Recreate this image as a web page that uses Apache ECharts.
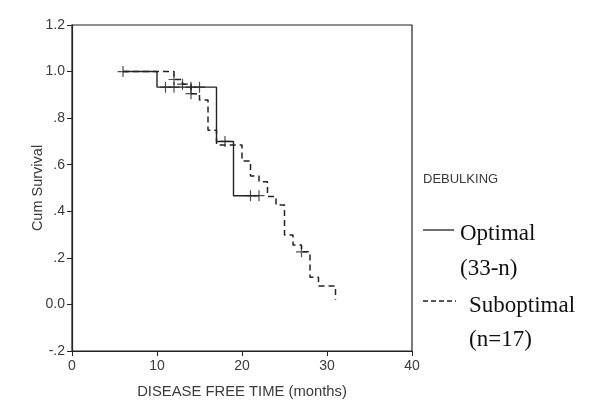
<!DOCTYPE html>
<html>
<head>
<meta charset="utf-8">
<script src="https://cdn.jsdelivr.net/npm/echarts@6/dist/echarts.min.js"></script>
<style>html,body{margin:0;padding:0;background:#fff}#c{width:600px;height:417px}</style>
</head>
<body>
<div id="c"></div>
<script>
// Kaplan-Meier step data (time in months, cumulative survival after that time)
const optimalTimes = [6, 10, 17, 19, 22];
const optimalSurv  = [1.0, 0.933, 0.70, 0.467, 0.467];
const optimalCensorTimes = [6, 11, 12, 14, 15, 18, 21, 22];
const optimalCensorSurv  = [1.0, 0.933, 0.933, 0.933, 0.933, 0.70, 0.467, 0.467];

const subTimes = [6, 12, 13, 14, 15, 16, 17, 20, 21, 22, 23, 24, 25, 26, 27, 28, 29, 31];
const subSurv  = [1.0, 0.966, 0.946, 0.905, 0.878, 0.748, 0.685, 0.616, 0.551, 0.527, 0.463, 0.427, 0.298, 0.255, 0.226, 0.117, 0.079, 0.02];
const subCensorTimes = [12, 13, 14, 27];
const subCensorSurv  = [0.966, 0.946, 0.905, 0.226];

const xTicks = [0, 10, 20, 30, 40];
const yTicks = [-0.2, 0, 0.2, 0.4, 0.6, 0.8, 1.0, 1.2];

const zip = (a, b) => a.map((v, i) => [v, b[i]]);
const plus = 'path://M4.45,0H5.55V4.45H10V5.55H5.55V10H4.45V5.55H0V4.45H4.45Z';
const ink = '#222';
const txt = '#3a3a3a';

function yFmt(v) {
  const r = Math.round(v * 10) / 10;
  if (Math.abs(r) < 1e-9) return '0.0';
  if (Math.abs(r) >= 1) return r.toFixed(1);
  const s = Math.abs(r).toFixed(1).replace(/^0/, '');
  return (r < 0 ? '-' : '') + s;
}

const chart = echarts.init(document.getElementById('c'), null, {renderer: 'canvas'});
chart.setOption({
  animation: false,
  backgroundColor: '#fff',
  grid: {left: 72, right: 188, top: 25, bottom: 66, show: true, borderColor: ink, borderWidth: 1.2, backgroundColor: 'transparent'},
  xAxis: {
    type: 'value', min: xTicks[0], max: xTicks[xTicks.length - 1], interval: 10,
    name: 'DISEASE FREE TIME (months)', nameLocation: 'middle', nameGap: 33,
    nameTextStyle: {fontFamily: 'Liberation Sans', fontSize: 14.8, color: txt},
    axisLine: {show: true, onZero: false, lineStyle: {color: ink, width: 1.2}},
    axisTick: {show: true, inside: false, length: 5, lineStyle: {color: ink}},
    axisLabel: {margin: 8, fontFamily: 'Liberation Sans', fontSize: 14, color: txt},
    splitLine: {show: false}
  },
  yAxis: {
    type: 'value', min: yTicks[0], max: yTicks[yTicks.length - 1], interval: 0.2,
    name: 'Cum Survival', nameLocation: 'middle', nameGap: 27, nameRotate: 90,
    nameMoveOverlap: false,
    nameTextStyle: {fontFamily: 'Liberation Sans', fontSize: 14.5, color: txt},
    axisLine: {show: true, onZero: false, lineStyle: {color: ink, width: 1.2}},
    axisTick: {show: true, inside: false, length: 5, lineStyle: {color: ink}},
    axisLabel: {margin: 7, fontFamily: 'Liberation Sans', fontSize: 14, color: txt, formatter: yFmt},
    splitLine: {show: false}
  },
  series: [
    {name: 'Optimal', type: 'line', step: 'end', data: zip(optimalTimes, optimalSurv),
     showSymbol: false, lineStyle: {color: ink, width: 1.4, type: 'solid'}, z: 3},
    {name: 'Suboptimal', type: 'line', step: 'end', data: zip(subTimes, subSurv),
     showSymbol: false, lineStyle: {color: ink, width: 1.5, type: [6, 4]}, z: 2},
    {name: 'Optimal censored', type: 'scatter', data: zip(optimalCensorTimes, optimalCensorSurv),
     symbol: plus, symbolSize: 11, itemStyle: {color: ink}, z: 4},
    {name: 'Suboptimal censored', type: 'scatter', data: zip(subCensorTimes, subCensorSurv),
     symbol: plus, symbolSize: 11, itemStyle: {color: ink}, z: 4}
  ],
  graphic: [
    {type: 'text', left: 423, top: 173, style: {text: 'DEBULKING', font: '13px "Liberation Sans"', fill: txt}},
    {type: 'line', shape: {x1: 423, y1: 230, x2: 454, y2: 230}, style: {stroke: ink, lineWidth: 1.3}},
    {type: 'text', left: 460, top: 222, style: {text: 'Optimal', font: '23px "Liberation Serif"', fill: '#111'}},
    {type: 'text', left: 460, top: 257, style: {text: '(33-n)', font: '23px "Liberation Serif"', fill: '#111'}},
    {type: 'line', shape: {x1: 423, y1: 301, x2: 456, y2: 301}, style: {stroke: ink, lineWidth: 1.3, lineDash: [5, 3]}},
    {type: 'text', left: 469, top: 294, style: {text: 'Suboptimal', font: '23px "Liberation Serif"', fill: '#111'}},
    {type: 'text', left: 469, top: 328, style: {text: '(n=17)', font: '23px "Liberation Serif"', fill: '#111'}}
  ]
});
</script>
</body>
</html>
